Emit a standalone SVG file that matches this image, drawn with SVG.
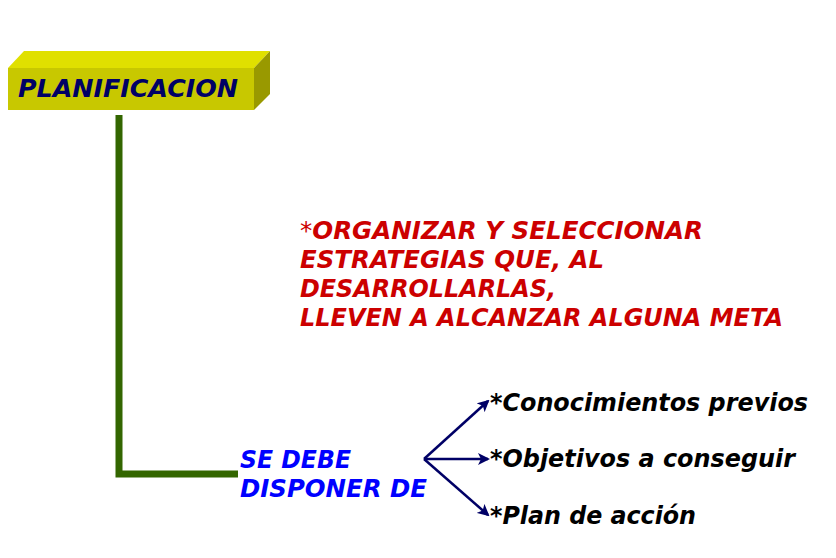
<svg xmlns="http://www.w3.org/2000/svg" width="836" height="558" viewBox="0 0 836 558">
<style>
text{font-family:"DejaVu Sans","Liberation Sans",sans-serif;font-weight:bold;font-style:italic;font-size:24px}
.red{fill:#cc0000}
.blue{fill:#0000ff}
.blk{fill:#000000}
.conn{stroke:#000066;stroke-width:2.5;fill:none}
</style>
<defs>
<marker id="ah" markerWidth="12" markerHeight="12" refX="10" refY="6" orient="auto" markerUnits="userSpaceOnUse">
<path d="M0,0 L12,6 L0,12 L3,6 Z" fill="#000066"/>
</marker>
</defs>
<rect width="836" height="558" fill="#ffffff"/>
<g id="planificacion">
<polygon points="8,68 24,51 270,51 254,68" fill="#e0e000"/>
<polygon points="254,68 270,51 270,94 254,110" fill="#999900"/>
<rect x="8" y="68" width="246" height="42" fill="#c8c800"/>
<text x="18" y="97" fill="#000066" font-size="25" textLength="220" lengthAdjust="spacingAndGlyphs">PLANIFICACION</text>
</g>
<g id="connectors">
<path d="M119,115 L119,474 L238,474" stroke="#336600" stroke-width="7" fill="none"/>
<line class="conn" x1="424" y1="459" x2="488" y2="401" marker-end="url(#ah)"/>
<line class="conn" x1="424" y1="459" x2="488" y2="459" marker-end="url(#ah)"/>
<line class="conn" x1="424" y1="459" x2="488" y2="515" marker-end="url(#ah)"/>
</g>
<g id="definicion">
<text x="300" y="239" class="red" textLength="403" lengthAdjust="spacingAndGlyphs"><tspan font-weight="normal" font-style="normal">*</tspan>ORGANIZAR Y SELECCIONAR</text>
<text x="300" y="268" class="red" textLength="304" lengthAdjust="spacingAndGlyphs">ESTRATEGIAS QUE, AL</text>
<text x="300" y="297" class="red" textLength="256" lengthAdjust="spacingAndGlyphs">DESARROLLARLAS,</text>
<text x="300" y="326" class="red" textLength="483" lengthAdjust="spacingAndGlyphs">LLEVEN A ALCANZAR ALGUNA META</text>
</g>
<g id="se-debe">
<text x="240" y="468" class="blue" textLength="111" lengthAdjust="spacingAndGlyphs">SE DEBE</text>
<text x="240" y="497" class="blue" textLength="187" lengthAdjust="spacingAndGlyphs">DISPONER DE</text>
</g>
<g id="conocimientos"><text x="490" y="411" class="blk" textLength="318" lengthAdjust="spacingAndGlyphs">*Conocimientos previos</text></g>
<g id="objetivos"><text x="490" y="467" class="blk" textLength="305" lengthAdjust="spacingAndGlyphs">*Objetivos a conseguir</text></g>
<g id="plan"><text x="490" y="524" class="blk" textLength="206" lengthAdjust="spacingAndGlyphs">*Plan de acción</text></g>
</svg>
